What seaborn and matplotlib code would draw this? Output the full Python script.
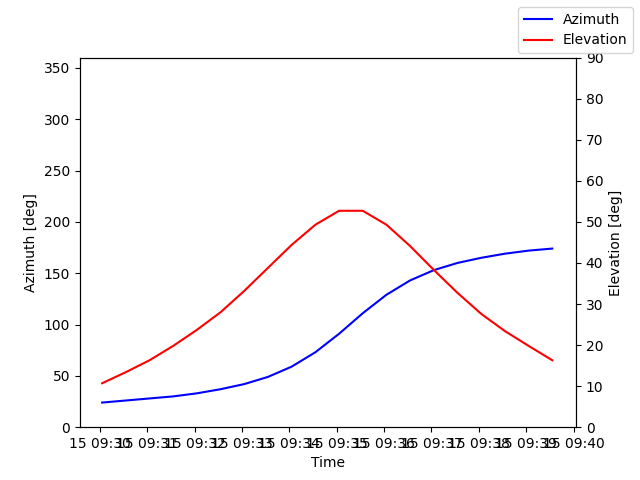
import matplotlib
matplotlib.use("Agg")
import matplotlib.pyplot as plt
import matplotlib.dates as mdates
import seaborn as sns
import pandas as pd

times = pd.date_range("2024-01-15 09:30:03", periods=20, freq="30s")
azimuth = [24, 26, 28, 30, 33, 37, 42, 49, 59, 73, 91, 111, 129, 143, 153, 160, 165, 169, 172, 174]
elevation = [10.7, 13.4, 16.3, 19.8, 23.7, 28.0, 33.2, 38.8, 44.4, 49.3, 52.7, 52.7, 49.3, 44.1, 38.3, 32.7, 27.6, 23.4, 19.8, 16.3]

df = pd.DataFrame({"Time": times, "Azimuth": azimuth, "Elevation": elevation})

fig, ax = plt.subplots(figsize=(6.4, 4.8), dpi=100)
sns.lineplot(data=df, x="Time", y="Azimuth", color="blue", ax=ax, label="Azimuth", legend=False)
ax2 = ax.twinx()
sns.lineplot(data=df, x="Time", y="Elevation", color="red", ax=ax2, label="Elevation", legend=False)
ax.set_ylim(0, 360)
ax2.set_ylim(0, 90)
ax.set_ylabel("Azimuth [deg]")
ax2.set_ylabel("Elevation [deg]")
ax.set_xlabel("Time")
ax.xaxis.set_major_locator(mdates.MinuteLocator())
ax.xaxis.set_major_formatter(mdates.DateFormatter("%d %H:%M"))
ax.set_xlim(pd.Timestamp("2024-01-15 09:29:35"), pd.Timestamp("2024-01-15 09:40:03"))
fig.legend(loc="upper right")
fig.savefig("out.png")
